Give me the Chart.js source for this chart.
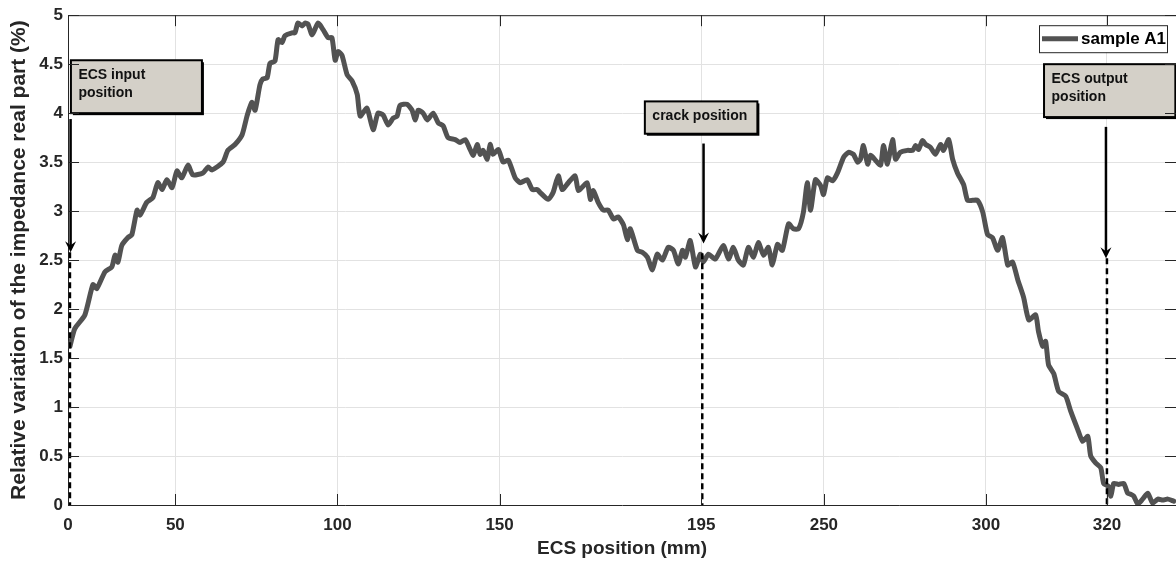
<!DOCTYPE html>
<html>
<head>
<meta charset="utf-8">
<title>ECS position</title>
<script src="https://cdn.jsdelivr.net/npm/chart.js@4.4.1/dist/chart.umd.min.js"></script>
<style>
  html, body { margin: 0; padding: 0; background: #fff; }
  #wrap { width: 1176px; height: 562px; position: relative; }
</style>
</head>
<body>
<div id="wrap"><canvas id="ecsChart"></canvas></div>
<script>
// sample A1, relative variation of the real part along the ECS
const positions = [
  17.5, 19.0, 22.1, 24.6, 25.8, 28.3, 30.4, 31.4, 32.3, 33.5,
  35.4, 36.6, 38.2, 39.1, 41.2, 43.1, 44.6, 45.9, 47.4, 49.0,
  50.5, 52.0, 53.9, 55.4, 58.5, 60.1, 61.3, 64.7, 66.2, 68.4,
  70.6, 72.1, 73.6, 74.6, 76.1, 77.0, 78.3, 79.2, 80.7, 81.7,
  82.9, 83.8, 86.0, 86.9, 87.8, 89.1, 90.0, 90.9, 92.2, 94.0,
  95.6, 97.1, 98.3, 99.3, 100.2, 101.4, 103.0, 104.5, 106.1, 107.0,
  109.1, 111.0, 112.5, 114.1, 115.6, 117.2, 118.4, 119.3, 121.5, 123.0,
  124.0, 124.9, 126.4, 127.7, 129.5, 131.1, 132.6, 134.1, 136.3, 137.8,
  139.4, 140.9, 141.9, 143.1, 144.0, 144.9, 146.2, 147.1, 148.0, 149.6,
  151.1, 152.7, 154.8, 156.4, 158.5, 160.1, 161.6, 162.5, 165.0, 166.5,
  168.1, 169.3, 171.2, 173.3, 174.3, 177.0, 178.0, 178.9, 180.4, 182.0,
  183.5, 185.1, 186.6, 188.2, 189.4, 190.3, 192.5, 194.0, 195.6, 197.1,
  198.6, 200.2, 202.0, 203.6, 205.1, 206.4, 207.3, 208.8, 210.4, 211.9,
  212.8, 214.4, 216.5, 219.0, 220.6, 222.1, 223.6, 225.2, 226.7, 228.3,
  229.8, 231.4, 232.9, 234.1, 235.7, 237.2, 239.1, 240.6, 242.2, 243.7,
  244.9, 245.9, 247.4, 249.0, 249.9, 251.1, 252.7, 254.2, 256.1, 257.6,
  259.1, 260.4, 261.3, 262.2, 263.5, 264.4, 265.9, 267.5, 268.4, 269.6,
  271.2, 272.1, 273.6, 275.8, 277.4, 278.3, 279.2, 280.4, 281.4, 282.9,
  284.4, 286.0, 286.9, 288.5, 289.7, 291.2, 293.1, 294.3, 295.9, 297.4,
  299.0, 300.5, 302.0, 303.6, 305.1, 306.7, 308.2, 309.8, 311.6, 313.2,
  315.3, 316.2, 317.5, 318.4, 319.3, 320.9, 322.4, 324.6, 326.1, 328.3,
  329.8, 331.4, 332.3, 333.8, 335.4, 336.3, 337.8, 338.5, 339.4, 340.9,
  342.5, 343.7, 344.6, 345.6, 346.8, 348.3, 349.9, 351.4, 353.0, 354.5,
  356.1, 357.9
];
const variation = [
  1.62, 1.80, 1.94, 2.25, 2.21, 2.38, 2.43, 2.55, 2.48, 2.65,
  2.73, 2.76, 3.01, 2.96, 3.09, 3.14, 3.29, 3.22, 3.32, 3.24,
  3.41, 3.34, 3.47, 3.37, 3.39, 3.45, 3.42, 3.50, 3.62, 3.68,
  3.78, 3.97, 4.11, 4.03, 4.29, 4.35, 4.36, 4.51, 4.53, 4.75,
  4.72, 4.79, 4.82, 4.82, 4.92, 4.89, 4.92, 4.91, 4.80, 4.92,
  4.85, 4.77, 4.77, 4.54, 4.63, 4.59, 4.39, 4.33, 4.19, 3.97,
  4.05, 3.83, 4.00, 3.98, 3.88, 3.95, 3.97, 4.08, 4.09, 4.03,
  3.93, 4.03, 4.00, 3.93, 4.00, 3.90, 3.87, 3.75, 3.73, 3.70,
  3.73, 3.63, 3.57, 3.68, 3.58, 3.62, 3.53, 3.68, 3.58, 3.63,
  3.50, 3.52, 3.34, 3.29, 3.32, 3.22, 3.22, 3.19, 3.12, 3.19,
  3.36, 3.22, 3.29, 3.36, 3.21, 3.29, 3.12, 3.21, 3.09, 3.01,
  3.01, 2.92, 2.94, 2.86, 2.71, 2.82, 2.60, 2.58, 2.53, 2.40,
  2.56, 2.50, 2.63, 2.60, 2.46, 2.60, 2.53, 2.70, 2.43, 2.56,
  2.48, 2.56, 2.51, 2.65, 2.51, 2.63, 2.50, 2.45, 2.63, 2.53,
  2.68, 2.55, 2.63, 2.45, 2.66, 2.60, 2.87, 2.82, 2.82, 2.99,
  3.29, 3.01, 3.32, 3.26, 3.17, 3.34, 3.31, 3.39, 3.55, 3.60,
  3.58, 3.50, 3.53, 3.67, 3.48, 3.57, 3.52, 3.47, 3.67, 3.48,
  3.73, 3.53, 3.60, 3.62, 3.62, 3.67, 3.63, 3.72, 3.68, 3.65,
  3.58, 3.68, 3.62, 3.73, 3.53, 3.39, 3.27, 3.11, 3.11, 3.11,
  2.99, 2.76, 2.73, 2.60, 2.73, 2.45, 2.48, 2.30, 2.12, 1.89,
  1.94, 1.77, 1.62, 1.67, 1.43, 1.34, 1.16, 1.11, 0.96, 0.77,
  0.65, 0.70, 0.50, 0.43, 0.38, 0.22, 0.19, 0.09, 0.22, 0.21,
  0.22, 0.12, 0.11, 0.09, 0.01, 0.06, 0.12, 0.02, 0.06, 0.05,
  0.06, 0.04
];

// x ticks sit at these axis values but carry the sensor labels
const xTickValues = [16.9, 50, 100, 150, 212.2, 250, 300, 337.3];
const xTickLabels = ['0', '50', '100', '150', '195', '250', '300', '320'];
const yTickLabels = ['0', '0.5', '1', '1.5', '2', '2.5', '3', '3.5', '4', '4.5', '5'];

const FONT = "'Liberation Sans', Arial, Helvetica, sans-serif";
const INK = '#262626';

// callouts: text box, arrow and dashed drop line (axis units)
const callouts = [
  { lines: ['ECS input', 'position'], box: [17.8, 58.2, 4.54, 4.0],
    arrowX: 17.7, arrowFrom: 3.94, arrowTo: 2.58, dropX: 17.5, dropTop: 2.58 },
  { lines: ['crack position'], box: [194.8, 229.5, 4.12, 3.79],
    arrowX: 212.9, arrowFrom: 3.69, arrowTo: 2.67, dropX: 212.5, dropTop: 2.57 },
  { lines: ['ECS output', 'position'], box: [317.9, 358.4, 4.50, 3.96],
    arrowX: 337.0, arrowFrom: 3.86, arrowTo: 2.52, dropX: 337.3, dropTop: 2.52 }
];

const calloutPlugin = {
  id: 'callouts',
  afterDatasetsDraw(chart) {
    const { ctx, scales: { x, y } } = chart;
    ctx.save();
    callouts.forEach(c => {
      // dashed drop line
      const dx = x.getPixelForValue(c.dropX);
      ctx.strokeStyle = '#000';
      ctx.lineWidth = 2.5;
      ctx.setLineDash([6, 4]);
      ctx.beginPath();
      ctx.moveTo(dx, y.getPixelForValue(c.dropTop));
      ctx.lineTo(dx, y.getPixelForValue(0));
      ctx.stroke();
      ctx.setLineDash([]);

      // arrow shaft and head
      const ax = x.getPixelForValue(c.arrowX);
      const y0 = y.getPixelForValue(c.arrowFrom);
      const y1 = y.getPixelForValue(c.arrowTo);
      ctx.lineWidth = 2.5;
      ctx.beginPath();
      ctx.moveTo(ax, y0);
      ctx.lineTo(ax, y1 - 6);
      ctx.stroke();
      ctx.fillStyle = '#000';
      ctx.beginPath();
      ctx.moveTo(ax, y1);
      ctx.lineTo(ax - 5.5, y1 - 11);
      ctx.lineTo(ax, y1 - 7);
      ctx.lineTo(ax + 5.5, y1 - 11);
      ctx.closePath();
      ctx.fill();

      // text box with a dark drop shadow
      const bl = x.getPixelForValue(c.box[0]);
      const br = x.getPixelForValue(c.box[1]);
      const bt = y.getPixelForValue(c.box[2]);
      const bb = y.getPixelForValue(c.box[3]);
      ctx.fillStyle = '#000';
      ctx.fillRect(bl + 2, bt + 2, br - bl, bb - bt);
      ctx.fillStyle = '#d4d0c8';
      ctx.fillRect(bl, bt, br - bl, bb - bt);
      ctx.lineWidth = 2;
      ctx.strokeRect(bl, bt, br - bl, bb - bt);
      ctx.fillStyle = '#111';
      ctx.font = 'bold 14px ' + FONT;
      ctx.textAlign = 'left';
      ctx.textBaseline = 'alphabetic';
      c.lines.forEach((t, i) => ctx.fillText(t, bl + 7.5, bt + 18.5 + i * 18.5));
    });
    ctx.restore();
  },
  afterDraw(chart) {
    const { ctx, chartArea: a, scales: { x, y } } = chart;
    ctx.save();
    // box frame top edge and inward tick marks
    ctx.strokeStyle = INK;
    ctx.lineWidth = 1;
    ctx.beginPath();
    ctx.moveTo(a.left, a.top + 0.5);
    ctx.lineTo(a.right, a.top + 0.5);
    xTickValues.forEach(v => {
      const px = Math.round(x.getPixelForValue(v)) + 0.5;
      ctx.moveTo(px, a.bottom); ctx.lineTo(px, a.bottom - 11);
      ctx.moveTo(px, a.top); ctx.lineTo(px, a.top + 11);
    });
    y.ticks.forEach(t => {
      const py = Math.round(y.getPixelForValue(t.value)) + 0.5;
      ctx.moveTo(a.left, py); ctx.lineTo(a.left + 11, py);
      ctx.moveTo(a.right, py); ctx.lineTo(a.right - 11, py);
    });
    ctx.stroke();

    // legend
    const ds = chart.data.datasets[0];
    const lr = a.right - 9, lt = a.top + 10, lw = 128, lh = 27;
    ctx.fillStyle = '#fff';
    ctx.fillRect(lr - lw, lt, lw, lh);
    ctx.strokeStyle = INK;
    ctx.strokeRect(lr - lw + 0.5, lt + 0.5, lw, lh);
    ctx.strokeStyle = ds.borderColor;
    ctx.lineWidth = 5;
    ctx.beginPath();
    ctx.moveTo(lr - lw + 3, lt + lh / 2);
    ctx.lineTo(lr - lw + 39, lt + lh / 2);
    ctx.stroke();
    ctx.fillStyle = '#000';
    ctx.font = 'bold 17px ' + FONT;
    ctx.textBaseline = 'middle';
    ctx.fillText(ds.label, lr - lw + 42, lt + lh / 2 + 1);
    ctx.restore();
  }
};

new Chart(document.getElementById('ecsChart'), {
  type: 'line',
  data: {
    datasets: [{
      label: 'sample A1',
      data: positions.map((p, i) => ({ x: p, y: variation[i] })),
      borderColor: '#525252',
      borderWidth: 5,
      borderJoinStyle: 'round',
      borderCapStyle: 'round',
      pointRadius: 0,
      tension: 0.2,
      fill: false
    }]
  },
  options: {
    responsive: true,
    maintainAspectRatio: false,
    animation: false,
    devicePixelRatio: 1,
    layout: { padding: { top: 14, right: 0, left: 0, bottom: 0 } },
    plugins: {
      legend: { display: false },
      tooltip: { enabled: false }
    },
    scales: {
      x: {
        type: 'linear',
        min: 16.9,
        max: 358.6,
        afterBuildTicks: axis => { axis.ticks = xTickValues.map(v => ({ value: v })); },
        afterFit: axis => { axis.height = 57; },
        ticks: {
          autoSkip: false,
          maxRotation: 0,
          padding: 10,
          color: INK,
          font: { family: FONT, size: 17, weight: 'bold' },
          callback: (v, i) => xTickLabels[i]
        },
        grid: { color: '#e2e2e2', drawTicks: false },
        border: { display: true, color: INK },
        title: {
          display: true,
          text: 'ECS position (mm)',
          color: INK,
          font: { family: FONT, size: 19, weight: 'bold' },
          padding: { top: 0, bottom: 2 }
        }
      },
      y: {
        min: 0,
        max: 5,
        afterFit: axis => { axis.width = 68; },
        ticks: {
          stepSize: 0.5,
          padding: 5,
          color: INK,
          font: { family: FONT, size: 17, weight: 'bold' },
          callback: (v, i) => yTickLabels[i]
        },
        grid: { color: '#e2e2e2', drawTicks: false },
        border: { display: true, color: INK },
        title: {
          display: true,
          text: 'Relative variation of the impedance real part (%)',
          color: INK,
          font: { family: FONT, size: 21, weight: 'bold' },
          padding: { top: 7, bottom: 0 }
        }
      }
    }
  },
  plugins: [calloutPlugin]
});
</script>
</body>
</html>
